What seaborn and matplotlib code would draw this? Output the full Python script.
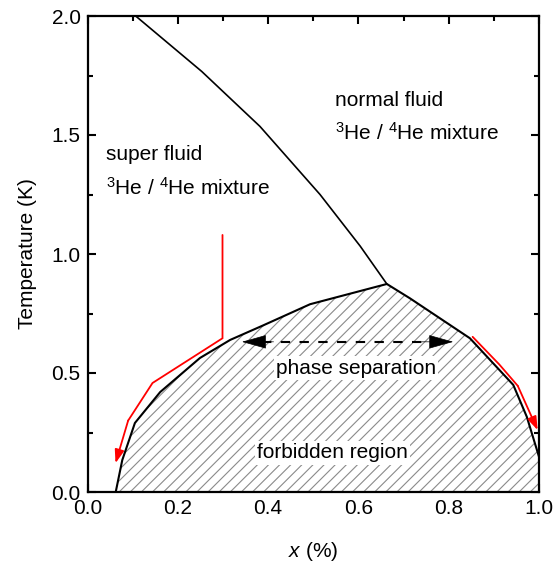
import numpy as np
import pandas as pd
import matplotlib
matplotlib.use("Agg")
import matplotlib.pyplot as plt
import seaborn as sns

# ---- data ----
lambda_x = [0.0, 0.253, 0.382, 0.515, 0.604, 0.663]
lambda_T = [2.17, 1.767, 1.536, 1.25, 1.033, 0.874]

sep_left_x = [0.0625, 0.077, 0.105, 0.161, 0.249, 0.316, 0.389, 0.493, 0.663]
sep_left_T = [0.0, 0.134, 0.29, 0.42, 0.563, 0.639, 0.70, 0.789, 0.874]

sep_right_x = [0.663, 0.714, 0.847, 0.943, 0.973, 1.0]
sep_right_T = [0.874, 0.814, 0.646, 0.450, 0.316, 0.148]

red_left_x = [0.299, 0.299, 0.144, 0.090, 0.062]
red_left_T = [1.08, 0.646, 0.458, 0.30, 0.121]

red_right_x = [0.853, 0.912, 0.953, 0.997]
red_right_T = [0.652, 0.536, 0.446, 0.26]

sep_arrow_x = [0.342, 0.810]
sep_arrow_T = 0.631

x_ticks = [0.0, 0.2, 0.4, 0.6, 0.8, 1.0]
y_ticks = [0.0, 0.5, 1.0, 1.5, 2.0]

# ---- style ----
sns.set_style("ticks")
plt.rcParams["font.family"] = ["Liberation Sans", "DejaVu Sans"]
plt.rcParams["mathtext.fontset"] = "custom"
plt.rcParams["mathtext.rm"] = "Liberation Sans"
plt.rcParams["mathtext.it"] = "Liberation Sans:italic"
plt.rcParams["mathtext.default"] = "regular"
plt.rcParams["hatch.linewidth"] = 0.8
for k in ["text.color", "axes.labelcolor", "xtick.color", "ytick.color", "axes.edgecolor"]:
    plt.rcParams[k] = "black"

fs = 15
fig = plt.figure(figsize=(5.54, 5.70), dpi=100)
ax = fig.add_axes([87.5 / 554, 1 - 492 / 570, (539 - 87.5) / 554, (492 - 16) / 570])

# hatched forbidden region
bx = sep_left_x + sep_right_x[1:]
bT = sep_left_T + sep_right_T[1:]
ax.fill_between(bx, 0, bT, facecolor="white", edgecolor="#8a8a8a", hatch="///", linewidth=0, zorder=1)

df_lam = pd.DataFrame({"x": lambda_x, "T": lambda_T})
df_sep = pd.DataFrame({"x": bx, "T": bT})
sns.lineplot(data=df_lam, x="x", y="T", sort=False, estimator=None, color="black", lw=1.2, ax=ax, zorder=3)
sns.lineplot(data=df_sep, x="x", y="T", sort=False, estimator=None, color="black", lw=1.5, ax=ax, zorder=3)

# red arrows
for xs, ts in [(red_left_x, red_left_T), (red_right_x, red_right_T)]:
    ax.plot(xs[:-1], ts[:-1], color="red", lw=1.3, zorder=4, solid_joinstyle="miter")
    ax.annotate("", xy=(xs[-1], ts[-1]), xytext=(xs[-2], ts[-2]),
                arrowprops=dict(arrowstyle="-|>,head_length=0.8,head_width=0.28", color="red",
                                lw=1.3, shrinkA=0, shrinkB=0), zorder=4)

# dashed double arrow
xm = np.mean(sep_arrow_x)
ax.plot([sep_arrow_x[0] + 0.045, sep_arrow_x[1] - 0.045], [sep_arrow_T, sep_arrow_T],
        color="black", lw=1.5, ls=(0, (4.5, 4.5)), zorder=4)
for xt in sep_arrow_x:
    ax.annotate("", xy=(xt, sep_arrow_T), xytext=(xt + (0.07 if xt < xm else -0.07), sep_arrow_T),
                arrowprops=dict(arrowstyle="-|>,head_length=1.6,head_width=0.45", color="black",
                                lw=0.5, shrinkA=0, shrinkB=0), zorder=4)

# texts
ax.text(0.548, 1.647, "normal fluid", fontsize=fs, va="center", ha="left")
ax.text(0.548, 1.508, "$^{3}$He / $^{4}$He mixture", fontsize=fs, va="center", ha="left")
ax.text(0.042, 1.416, "super fluid", fontsize=fs, va="center", ha="left")
ax.text(0.042, 1.277, "$^{3}$He / $^{4}$He mixture", fontsize=fs, va="center", ha="left")
ax.text(0.595, 0.521, "phase separation", fontsize=fs, va="center", ha="center", zorder=5,
        bbox=dict(facecolor="white", edgecolor="none", pad=1.5))
ax.text(0.542, 0.164, "forbidden region", fontsize=fs, va="center", ha="center", zorder=5,
        bbox=dict(facecolor="white", edgecolor="none", pad=1.5))

# axes
ax.set_xlim(0, 1)
ax.set_ylim(0, 2)
ax.set_xticks(x_ticks)
ax.set_yticks(y_ticks)
ax.set_xticklabels([f"{v:.1f}" for v in x_ticks])
ax.set_yticklabels([f"{v:.1f}" for v in y_ticks])
ax.set_xticks(np.arange(0.1, 1.0, 0.2), minor=True)
ax.set_yticks(np.arange(0.25, 2.0, 0.5), minor=True)
ax.tick_params(which="both", direction="in", top=True, right=True, width=1.5, color="black",
               labelsize=fs, pad=5)
ax.tick_params(which="major", length=6)
ax.tick_params(which="minor", length=3.5)
for s in ax.spines.values():
    s.set_linewidth(1.6)
    s.set_color("black")
    s.set_zorder(6)
ax.set_xlabel(r"$\mathit{x}$ (%)", fontsize=fs, labelpad=16)
ax.set_ylabel("Temperature (K)", fontsize=fs, labelpad=10)

fig.savefig("out.png", dpi=100)
